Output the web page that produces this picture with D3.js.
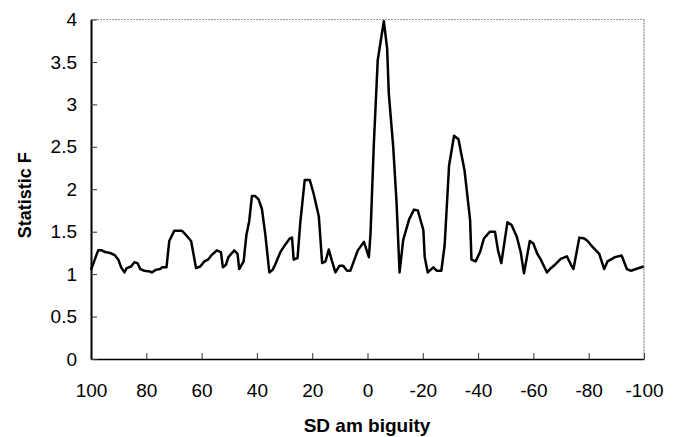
<!DOCTYPE html>
<html>
<head>
<meta charset="utf-8">
<script src="https://cdn.jsdelivr.net/npm/d3@7"></script>
<style>
  html, body { margin: 0; padding: 0; background: #fff; }
  svg { display: block; }
  text { font-family: "Liberation Sans", Arial, sans-serif; fill: #000; }
</style>
</head>
<body>
<svg id="chart" width="680" height="437"></svg>
<script>
// SD ambiguity values (x) and statistic F values (y)
const sdAmbiguity = [100.0, 97.4, 96.1, 94.9, 93.1, 91.3, 90.1, 89.1, 87.9, 87.1, 85.5, 84.3, 83.2, 82.2, 80.7, 78.6, 78.0, 76.6, 75.0, 74.2, 72.7, 71.7, 69.9, 67.1, 65.9, 63.8, 62.0, 60.5, 59.0, 57.7, 56.5, 54.5, 53.0, 52.3, 51.2, 50.3, 48.2, 47.0, 46.4, 44.8, 43.8, 42.8, 41.8, 40.6, 39.4, 38.2, 37.0, 35.5, 34.3, 33.3, 31.5, 29.7, 28.1, 27.3, 26.7, 25.3, 24.3, 22.7, 20.9, 19.5, 17.6, 16.4, 15.2, 14.0, 13.0, 11.6, 10.1, 8.8, 7.4, 6.2, 5.2, 3.5, 1.3, -0.5, -1.1, -2.3, -3.7, -5.9, -7.1, -7.7, -9.3, -10.5, -11.6, -12.9, -15.0, -16.8, -18.2, -20.2, -20.7, -21.8, -23.8, -25.0, -26.7, -27.9, -29.5, -31.3, -32.9, -35.1, -37.1, -37.6, -39.1, -40.7, -42.1, -44.3, -46.1, -47.2, -48.4, -50.6, -52.1, -54.0, -55.4, -56.6, -58.7, -60.0, -61.4, -62.7, -64.9, -66.3, -68.1, -69.9, -72.1, -73.6, -74.5, -76.6, -78.4, -79.6, -81.4, -83.8, -85.6, -86.8, -89.5, -91.9, -93.8, -95.3, -97.1, -99.9];
const statisticF = [1.05, 1.28, 1.28, 1.26, 1.25, 1.22, 1.17, 1.08, 1.02, 1.07, 1.09, 1.14, 1.13, 1.06, 1.04, 1.03, 1.02, 1.05, 1.06, 1.08, 1.08, 1.39, 1.51, 1.51, 1.47, 1.39, 1.07, 1.09, 1.15, 1.17, 1.22, 1.28, 1.26, 1.08, 1.11, 1.20, 1.28, 1.24, 1.06, 1.15, 1.46, 1.62, 1.92, 1.92, 1.88, 1.77, 1.48, 1.02, 1.05, 1.12, 1.26, 1.35, 1.42, 1.43, 1.17, 1.19, 1.61, 2.11, 2.11, 1.95, 1.68, 1.13, 1.15, 1.29, 1.17, 1.02, 1.10, 1.10, 1.04, 1.04, 1.13, 1.28, 1.38, 1.20, 1.48, 2.54, 3.52, 3.98, 3.66, 3.13, 2.50, 1.85, 1.02, 1.40, 1.64, 1.76, 1.75, 1.52, 1.20, 1.02, 1.08, 1.04, 1.04, 1.34, 2.28, 2.63, 2.59, 2.22, 1.64, 1.17, 1.15, 1.26, 1.42, 1.50, 1.50, 1.28, 1.13, 1.61, 1.58, 1.44, 1.26, 1.01, 1.39, 1.36, 1.24, 1.17, 1.02, 1.07, 1.12, 1.18, 1.21, 1.11, 1.06, 1.43, 1.42, 1.39, 1.32, 1.24, 1.06, 1.15, 1.20, 1.22, 1.06, 1.04, 1.06, 1.09];
const xTicks = [100, 80, 60, 40, 20, 0, -20, -40, -60, -80, -100];
const yTicks = [0, 0.5, 1, 1.5, 2, 2.5, 3, 3.5, 4];
const xTitle = "SD am biguity";
const yTitle = "Statistic F";

const svg = d3.select("#chart");
const mLeft = 91, mRight = 644, mTop = 19.5, mBottom = 359;

const x = d3.scaleLinear().domain([100, -100]).range([mLeft, mRight]);
const y = d3.scaleLinear().domain([0, 4]).range([mBottom, mTop]);

// frame (top and right borders, light gray)
svg.append("line").attr("x1", mLeft).attr("x2", mRight).attr("y1", mTop).attr("y2", mTop)
  .attr("stroke", "#999").attr("stroke-width", 1).attr("stroke-dasharray", "2,1");
svg.append("line").attr("x1", mRight).attr("x2", mRight).attr("y1", mTop).attr("y2", mBottom)
  .attr("stroke", "#888").attr("stroke-width", 1.2).attr("stroke-dasharray", "2,1");

// x axis
const xAxis = d3.axisBottom(x).tickValues(xTicks).tickSizeInner(-6).tickSizeOuter(0)
  .tickFormat(d => d);
const gx = svg.append("g").attr("transform", `translate(0,${mBottom})`).call(xAxis);
gx.select(".domain").attr("stroke", "#000").attr("stroke-width", 1.5);
gx.selectAll(".tick line").attr("stroke", "#333").attr("stroke-width", 1);
gx.selectAll(".tick text").attr("font-size", 19).attr("font-family", "Liberation Sans, Arial, sans-serif")
  .attr("fill", "#000").attr("dy", "0.35em").attr("y", 31);

// y axis
const yAxis = d3.axisLeft(y).tickValues(yTicks).tickSizeInner(-6).tickSizeOuter(0)
  .tickFormat(d => d);
const gy = svg.append("g").attr("transform", `translate(${mLeft},0)`).call(yAxis);
gy.select(".domain").attr("stroke", "#000").attr("stroke-width", 2);
gy.selectAll(".tick line").attr("stroke", "#333").attr("stroke-width", 1);
gy.selectAll(".tick text").attr("font-size", 19).attr("font-family", "Liberation Sans, Arial, sans-serif")
  .attr("fill", "#000").attr("x", -14);

// data line
const pts = sdAmbiguity.map((v, i) => [v, statisticF[i]]);
svg.append("path").datum(pts)
  .attr("fill", "none").attr("stroke", "#000").attr("stroke-width", 2.5)
  .attr("stroke-linejoin", "round")
  .attr("d", d3.line().x(d => x(d[0])).y(d => y(d[1])));

// titles
svg.append("text").attr("x", 367).attr("y", 432)
  .attr("text-anchor", "middle").attr("font-size", 19).attr("font-weight", "bold")
  .text(xTitle);
svg.append("text").attr("transform", `translate(31,${(mTop + mBottom) / 2 + 6}) rotate(-90)`)
  .attr("text-anchor", "middle").attr("font-size", 18).attr("font-weight", "bold")
  .text(yTitle);
</script>
</body>
</html>
